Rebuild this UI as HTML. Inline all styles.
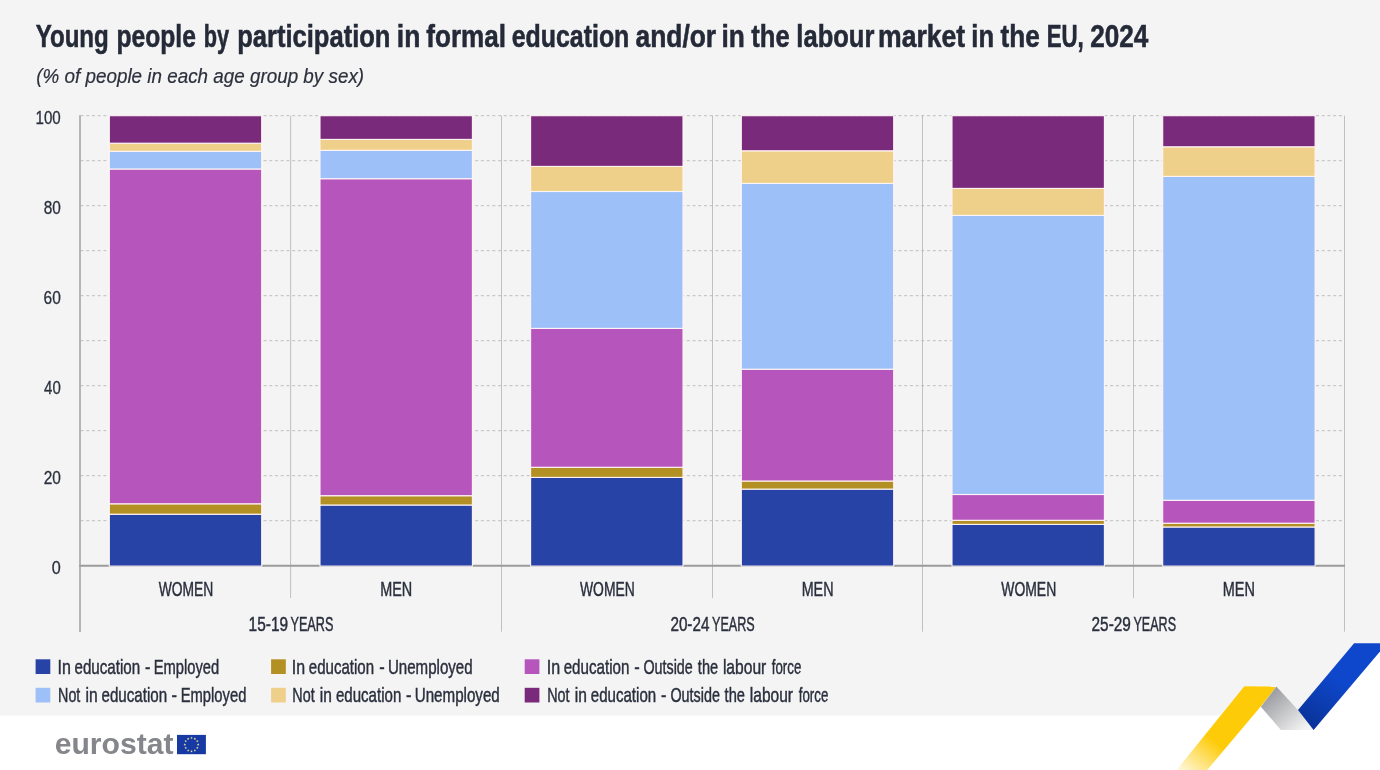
<!DOCTYPE html>
<html lang="en"><head><meta charset="utf-8"><title>Young people by participation in formal education and/or in the labour market in the EU, 2024</title>
<style>html,body{margin:0;padding:0;background:#fff;}svg{display:block;}text{font-family:"Liberation Sans",sans-serif;}</style></head><body>
<svg width="1380" height="770" viewBox="0 0 1380 770">
<defs>
<linearGradient id="gy" gradientUnits="userSpaceOnUse" x1="1216" y1="742" x2="1183" y2="782"><stop offset="0" stop-color="#fecb08"/><stop offset="1" stop-color="#fecb08" stop-opacity="0"/></linearGradient>
<linearGradient id="gb" gradientUnits="userSpaceOnUse" x1="1336" y1="678" x2="1305" y2="726"><stop offset="0" stop-color="#0e47cb"/><stop offset="1" stop-color="#0a3296"/></linearGradient>
<linearGradient id="gg" gradientUnits="userSpaceOnUse" x1="1268" y1="695" x2="1300" y2="732"><stop offset="0" stop-color="#9c9da1"/><stop offset="1" stop-color="#f2f2f2"/></linearGradient>
</defs>
<rect width="1380" height="770" fill="#ffffff"/>
<polygon points="0,0 1380,0 1380,643.2 1354.1,643.2 1298,710 1276.4,686.5 1244.3,686.3 1220,715.6 0,715.6" fill="#f4f4f4"/>
<polygon points="1244.3,686.3 1276.4,686.5 1260.7,706.6 1207.2,770 1176.6,770" fill="url(#gy)"/>
<polygon points="1276.4,686.6 1260.9,706.8 1280.9,730 1314,730 1298,710" fill="url(#gg)"/>
<polygon points="1354.1,643.2 1380,643.2 1380,651.4 1313.6,730 1298,710" fill="url(#gb)"/>
<path d="M80.5 520.7H1344.5M80.5 475.7H1344.5M80.5 430.7H1344.5M80.5 385.7H1344.5M80.5 340.7H1344.5M80.5 295.7H1344.5M80.5 250.7H1344.5M80.5 205.7H1344.5M80.5 160.7H1344.5M80.5 115.7H1344.5" stroke="#b9b9b9" stroke-width="0.9" stroke-dasharray="3 2.72" fill="none"/>
<path d="M290.6 115.7V598.0M501.5 115.7V631.7M712.5 115.7V598.0M922.5 115.7V631.7M1133.5 115.7V598.0M1344.5 115.7V631.7" stroke="#b2b2b2" stroke-width="0.8" fill="none"/>
<path d="M80 115.2V632" stroke="#9b9b9b" stroke-width="1.4" fill="none"/>
<path d="M79.3 565.8H1345" stroke="#9b9b9b" stroke-width="1.9" fill="none"/>
<rect x="109.3" y="514.2" width="152.4" height="51.9" fill="#2843a6" stroke="#fff5f5" stroke-width="1.1"/>
<rect x="109.3" y="503.8" width="152.4" height="10.4" fill="#b39024" stroke="#fff5f5" stroke-width="1.1"/>
<rect x="109.3" y="169.0" width="152.4" height="334.8" fill="#b656bd" stroke="#fff5f5" stroke-width="1.1"/>
<rect x="109.3" y="151.3" width="152.4" height="17.7" fill="#9dc0f8" stroke="#fff5f5" stroke-width="1.1"/>
<rect x="109.3" y="143.2" width="152.4" height="8.1" fill="#efd08a" stroke="#fff5f5" stroke-width="1.1"/>
<rect x="109.3" y="115.7" width="152.4" height="27.5" fill="#7a2a7a" stroke="#fff5f5" stroke-width="1.1"/>
<rect x="320.0" y="505.0" width="152.4" height="61.1" fill="#2843a6" stroke="#fff5f5" stroke-width="1.1"/>
<rect x="320.0" y="495.7" width="152.4" height="9.3" fill="#b39024" stroke="#fff5f5" stroke-width="1.1"/>
<rect x="320.0" y="178.7" width="152.4" height="317.0" fill="#b656bd" stroke="#fff5f5" stroke-width="1.1"/>
<rect x="320.0" y="150.3" width="152.4" height="28.4" fill="#9dc0f8" stroke="#fff5f5" stroke-width="1.1"/>
<rect x="320.0" y="139.4" width="152.4" height="10.9" fill="#efd08a" stroke="#fff5f5" stroke-width="1.1"/>
<rect x="320.0" y="115.7" width="152.4" height="23.7" fill="#7a2a7a" stroke="#fff5f5" stroke-width="1.1"/>
<rect x="530.6" y="477.4" width="152.4" height="88.7" fill="#2843a6" stroke="#fff5f5" stroke-width="1.1"/>
<rect x="530.6" y="467.3" width="152.4" height="10.1" fill="#b39024" stroke="#fff5f5" stroke-width="1.1"/>
<rect x="530.6" y="328.4" width="152.4" height="138.9" fill="#b656bd" stroke="#fff5f5" stroke-width="1.1"/>
<rect x="530.6" y="191.5" width="152.4" height="136.9" fill="#9dc0f8" stroke="#fff5f5" stroke-width="1.1"/>
<rect x="530.6" y="166.4" width="152.4" height="25.1" fill="#efd08a" stroke="#fff5f5" stroke-width="1.1"/>
<rect x="530.6" y="115.7" width="152.4" height="50.7" fill="#7a2a7a" stroke="#fff5f5" stroke-width="1.1"/>
<rect x="741.3" y="489.1" width="152.4" height="77.0" fill="#2843a6" stroke="#fff5f5" stroke-width="1.1"/>
<rect x="741.3" y="481.0" width="152.4" height="8.1" fill="#b39024" stroke="#fff5f5" stroke-width="1.1"/>
<rect x="741.3" y="369.2" width="152.4" height="111.8" fill="#b656bd" stroke="#fff5f5" stroke-width="1.1"/>
<rect x="741.3" y="183.4" width="152.4" height="185.8" fill="#9dc0f8" stroke="#fff5f5" stroke-width="1.1"/>
<rect x="741.3" y="150.8" width="152.4" height="32.6" fill="#efd08a" stroke="#fff5f5" stroke-width="1.1"/>
<rect x="741.3" y="115.7" width="152.4" height="35.1" fill="#7a2a7a" stroke="#fff5f5" stroke-width="1.1"/>
<rect x="952.0" y="524.4" width="152.4" height="41.7" fill="#2843a6" stroke="#fff5f5" stroke-width="1.1"/>
<rect x="952.0" y="520.3" width="152.4" height="4.1" fill="#b39024" stroke="#fff5f5" stroke-width="1.1"/>
<rect x="952.0" y="494.5" width="152.4" height="25.8" fill="#b656bd" stroke="#fff5f5" stroke-width="1.1"/>
<rect x="952.0" y="215.4" width="152.4" height="279.1" fill="#9dc0f8" stroke="#fff5f5" stroke-width="1.1"/>
<rect x="952.0" y="188.4" width="152.4" height="27.0" fill="#efd08a" stroke="#fff5f5" stroke-width="1.1"/>
<rect x="952.0" y="115.7" width="152.4" height="72.7" fill="#7a2a7a" stroke="#fff5f5" stroke-width="1.1"/>
<rect x="1162.7" y="527.0" width="152.4" height="39.1" fill="#2843a6" stroke="#fff5f5" stroke-width="1.1"/>
<rect x="1162.7" y="523.2" width="152.4" height="3.8" fill="#b39024" stroke="#fff5f5" stroke-width="1.1"/>
<rect x="1162.7" y="500.3" width="152.4" height="22.9" fill="#b656bd" stroke="#fff5f5" stroke-width="1.1"/>
<rect x="1162.7" y="176.4" width="152.4" height="323.9" fill="#9dc0f8" stroke="#fff5f5" stroke-width="1.1"/>
<rect x="1162.7" y="146.8" width="152.4" height="29.6" fill="#efd08a" stroke="#fff5f5" stroke-width="1.1"/>
<rect x="1162.7" y="115.7" width="152.4" height="31.1" fill="#7a2a7a" stroke="#fff5f5" stroke-width="1.1"/>
<rect x="35.6" y="659.3" width="14.7" height="14.7" fill="#2843a6"/>
<rect x="35.6" y="687.8" width="14.7" height="14.7" fill="#9dc0f8"/>
<rect x="271.1" y="659.3" width="14.7" height="14.7" fill="#b39024"/>
<rect x="271.1" y="687.8" width="14.7" height="14.7" fill="#efd08a"/>
<rect x="524.7" y="659.3" width="14.7" height="14.7" fill="#b656bd"/>
<rect x="524.7" y="687.8" width="14.7" height="14.7" fill="#7a2a7a"/>
<rect x="177" y="734.9" width="28.9" height="19.3" fill="#1639a3"/>
<g fill="#e3dc9a"><polygon points="191.50,736.55 191.85,737.41 192.78,737.48 192.07,738.09 192.29,738.99 191.50,738.50 190.71,738.99 190.93,738.09 190.22,737.48 191.15,737.41"/><polygon points="194.85,737.45 195.20,738.31 196.13,738.38 195.42,738.98 195.64,739.89 194.85,739.40 194.06,739.89 194.28,738.98 193.57,738.38 194.50,738.31"/><polygon points="197.30,739.90 197.66,740.76 198.59,740.83 197.87,741.44 198.10,742.34 197.30,741.85 196.51,742.34 196.73,741.44 196.02,740.83 196.95,740.76"/><polygon points="198.20,743.25 198.55,744.11 199.48,744.18 198.77,744.79 198.99,745.69 198.20,745.20 197.41,745.69 197.63,744.79 196.92,744.18 197.85,744.11"/><polygon points="197.30,746.60 197.66,747.46 198.59,747.53 197.87,748.14 198.10,749.04 197.30,748.55 196.51,749.04 196.73,748.14 196.02,747.53 196.95,747.46"/><polygon points="194.85,749.05 195.20,749.92 196.13,749.99 195.42,750.59 195.64,751.49 194.85,751.00 194.06,751.49 194.28,750.59 193.57,749.99 194.50,749.92"/><polygon points="191.50,749.95 191.85,750.81 192.78,750.88 192.07,751.49 192.29,752.39 191.50,751.90 190.71,752.39 190.93,751.49 190.22,750.88 191.15,750.81"/><polygon points="188.15,749.05 188.50,749.92 189.43,749.99 188.72,750.59 188.94,751.49 188.15,751.00 187.36,751.49 187.58,750.59 186.87,749.99 187.80,749.92"/><polygon points="185.70,746.60 186.05,747.46 186.98,747.53 186.27,748.14 186.49,749.04 185.70,748.55 184.90,749.04 185.13,748.14 184.41,747.53 185.34,747.46"/><polygon points="184.80,743.25 185.15,744.11 186.08,744.18 185.37,744.79 185.59,745.69 184.80,745.20 184.01,745.69 184.23,744.79 183.52,744.18 184.45,744.11"/><polygon points="185.70,739.90 186.05,740.76 186.98,740.83 186.27,741.44 186.49,742.34 185.70,741.85 184.90,742.34 185.13,741.44 184.41,740.83 185.34,740.76"/><polygon points="188.15,737.45 188.50,738.31 189.43,738.38 188.72,738.98 188.94,739.89 188.15,739.40 187.36,739.89 187.58,738.98 186.87,738.38 187.80,738.31"/></g>
<text id="t0" x="35.63" y="47.40" font-size="31.40" font-weight="bold" font-style="normal" fill="#252a38" stroke="#252a38" stroke-width="0.55" textLength="73.20" lengthAdjust="spacingAndGlyphs">Young</text>
<text id="t1" x="116.56" y="47.40" font-size="31.40" font-weight="bold" font-style="normal" fill="#252a38" stroke="#252a38" stroke-width="0.55" textLength="79.31" lengthAdjust="spacingAndGlyphs">people</text>
<text id="t2" x="203.69" y="47.40" font-size="31.40" font-weight="bold" font-style="normal" fill="#252a38" stroke="#252a38" stroke-width="0.55" textLength="25.36" lengthAdjust="spacingAndGlyphs">by</text>
<text id="t3" x="237.17" y="47.40" font-size="31.40" font-weight="bold" font-style="normal" fill="#252a38" stroke="#252a38" stroke-width="0.55" textLength="153.29" lengthAdjust="spacingAndGlyphs">participation</text>
<text id="t4" x="396.85" y="47.40" font-size="31.40" font-weight="bold" font-style="normal" fill="#252a38" stroke="#252a38" stroke-width="0.55" textLength="23.49" lengthAdjust="spacingAndGlyphs">in</text>
<text id="t5" x="426.27" y="47.40" font-size="31.40" font-weight="bold" font-style="normal" fill="#252a38" stroke="#252a38" stroke-width="0.55" textLength="79.71" lengthAdjust="spacingAndGlyphs">formal</text>
<text id="t6" x="511.69" y="47.40" font-size="31.40" font-weight="bold" font-style="normal" fill="#252a38" stroke="#252a38" stroke-width="0.55" textLength="117.63" lengthAdjust="spacingAndGlyphs">education</text>
<text id="t7" x="635.50" y="47.40" font-size="31.40" font-weight="bold" font-style="normal" fill="#252a38" stroke="#252a38" stroke-width="0.55" textLength="80.63" lengthAdjust="spacingAndGlyphs">and/or</text>
<text id="t8" x="721.47" y="47.40" font-size="31.40" font-weight="bold" font-style="normal" fill="#252a38" stroke="#252a38" stroke-width="0.55" textLength="23.33" lengthAdjust="spacingAndGlyphs">in</text>
<text id="t9" x="751.33" y="47.40" font-size="31.40" font-weight="bold" font-style="normal" fill="#252a38" stroke="#252a38" stroke-width="0.55" textLength="38.33" lengthAdjust="spacingAndGlyphs">the</text>
<text id="t10" x="796.35" y="47.40" font-size="31.40" font-weight="bold" font-style="normal" fill="#252a38" stroke="#252a38" stroke-width="0.55" textLength="78.07" lengthAdjust="spacingAndGlyphs">labour</text>
<text id="t11" x="878.03" y="47.40" font-size="31.40" font-weight="bold" font-style="normal" fill="#252a38" stroke="#252a38" stroke-width="0.55" textLength="87.16" lengthAdjust="spacingAndGlyphs">market</text>
<text id="t12" x="971.32" y="47.40" font-size="31.40" font-weight="bold" font-style="normal" fill="#252a38" stroke="#252a38" stroke-width="0.55" textLength="22.72" lengthAdjust="spacingAndGlyphs">in</text>
<text id="t13" x="1000.58" y="47.40" font-size="31.40" font-weight="bold" font-style="normal" fill="#252a38" stroke="#252a38" stroke-width="0.55" textLength="39.23" lengthAdjust="spacingAndGlyphs">the</text>
<text id="t14" x="1046.68" y="47.40" font-size="31.40" font-weight="bold" font-style="normal" fill="#252a38" stroke="#252a38" stroke-width="0.55" textLength="37.14" lengthAdjust="spacingAndGlyphs">EU,</text>
<text id="t15" x="1090.17" y="47.40" font-size="31.40" font-weight="bold" font-style="normal" fill="#252a38" stroke="#252a38" stroke-width="0.55" textLength="58.09" lengthAdjust="spacingAndGlyphs">2024</text>
<text id="sub" x="36.34" y="83.30" font-size="19.60" font-weight="normal" font-style="italic" fill="#2c303c" stroke="#2c303c" stroke-width="0.20" textLength="327.75" lengthAdjust="spacingAndGlyphs">(% of people in each age group by sex)</text>
<text id="y100" x="35.53" y="124.10" font-size="19.20" font-weight="normal" font-style="normal" fill="#2a2f3d" stroke="#2a2f3d" stroke-width="0.30" textLength="25.22" lengthAdjust="spacingAndGlyphs">100</text>
<text id="y80" x="43.72" y="214.10" font-size="19.20" font-weight="normal" font-style="normal" fill="#2a2f3d" stroke="#2a2f3d" stroke-width="0.30" textLength="17.12" lengthAdjust="spacingAndGlyphs">80</text>
<text id="y60" x="43.51" y="304.10" font-size="19.20" font-weight="normal" font-style="normal" fill="#2a2f3d" stroke="#2a2f3d" stroke-width="0.30" textLength="17.26" lengthAdjust="spacingAndGlyphs">60</text>
<text id="y40" x="44.07" y="394.10" font-size="19.20" font-weight="normal" font-style="normal" fill="#2a2f3d" stroke="#2a2f3d" stroke-width="0.30" textLength="16.68" lengthAdjust="spacingAndGlyphs">40</text>
<text id="y20" x="43.66" y="484.10" font-size="19.20" font-weight="normal" font-style="normal" fill="#2a2f3d" stroke="#2a2f3d" stroke-width="0.30" textLength="17.20" lengthAdjust="spacingAndGlyphs">20</text>
<text id="y0" x="51.82" y="574.10" font-size="19.20" font-weight="normal" font-style="normal" fill="#2a2f3d" stroke="#2a2f3d" stroke-width="0.30" textLength="8.99" lengthAdjust="spacingAndGlyphs">0</text>
<text id="x0" x="158.71" y="595.90" font-size="20.00" font-weight="normal" font-style="normal" fill="#2a2f3d" stroke="#2a2f3d" stroke-width="0.45" textLength="54.63" lengthAdjust="spacingAndGlyphs">WOMEN</text>
<text id="x1" x="380.20" y="595.90" font-size="20.00" font-weight="normal" font-style="normal" fill="#2a2f3d" stroke="#2a2f3d" stroke-width="0.45" textLength="32.04" lengthAdjust="spacingAndGlyphs">MEN</text>
<text id="x2" x="579.99" y="595.90" font-size="20.00" font-weight="normal" font-style="normal" fill="#2a2f3d" stroke="#2a2f3d" stroke-width="0.45" textLength="54.81" lengthAdjust="spacingAndGlyphs">WOMEN</text>
<text id="x3" x="801.64" y="595.90" font-size="20.00" font-weight="normal" font-style="normal" fill="#2a2f3d" stroke="#2a2f3d" stroke-width="0.45" textLength="31.88" lengthAdjust="spacingAndGlyphs">MEN</text>
<text id="x4" x="1001.30" y="595.90" font-size="20.00" font-weight="normal" font-style="normal" fill="#2a2f3d" stroke="#2a2f3d" stroke-width="0.45" textLength="54.91" lengthAdjust="spacingAndGlyphs">WOMEN</text>
<text id="x5" x="1222.80" y="595.90" font-size="20.00" font-weight="normal" font-style="normal" fill="#2a2f3d" stroke="#2a2f3d" stroke-width="0.45" textLength="32.16" lengthAdjust="spacingAndGlyphs">MEN</text>
<text id="g0a" x="248.57" y="630.70" font-size="20.30" font-weight="normal" font-style="normal" fill="#2a2f3d" stroke="#2a2f3d" stroke-width="0.45" textLength="39.52" lengthAdjust="spacingAndGlyphs">15-19</text>
<text id="g0b" x="290.49" y="630.70" font-size="20.30" font-weight="normal" font-style="normal" fill="#2a2f3d" stroke="#2a2f3d" stroke-width="0.45" textLength="42.92" lengthAdjust="spacingAndGlyphs">YEARS</text>
<text id="g1a" x="670.41" y="630.70" font-size="20.30" font-weight="normal" font-style="normal" fill="#2a2f3d" stroke="#2a2f3d" stroke-width="0.45" textLength="38.99" lengthAdjust="spacingAndGlyphs">20-24</text>
<text id="g1b" x="712.03" y="630.70" font-size="20.30" font-weight="normal" font-style="normal" fill="#2a2f3d" stroke="#2a2f3d" stroke-width="0.45" textLength="42.73" lengthAdjust="spacingAndGlyphs">YEARS</text>
<text id="g2a" x="1091.57" y="630.70" font-size="20.30" font-weight="normal" font-style="normal" fill="#2a2f3d" stroke="#2a2f3d" stroke-width="0.45" textLength="39.31" lengthAdjust="spacingAndGlyphs">25-29</text>
<text id="g2b" x="1133.42" y="630.70" font-size="20.30" font-weight="normal" font-style="normal" fill="#2a2f3d" stroke="#2a2f3d" stroke-width="0.45" textLength="42.63" lengthAdjust="spacingAndGlyphs">YEARS</text>
<text id="l0_0_0" x="57.62" y="673.60" font-size="20.20" font-weight="normal" font-style="normal" fill="#2a2f3d" stroke="#2a2f3d" stroke-width="0.45" textLength="13.35" lengthAdjust="spacingAndGlyphs">In</text>
<text id="l0_0_1" x="74.49" y="673.60" font-size="20.20" font-weight="normal" font-style="normal" fill="#2a2f3d" stroke="#2a2f3d" stroke-width="0.45" textLength="65.69" lengthAdjust="spacingAndGlyphs">education</text>
<text id="l0_0_2" x="144.89" y="673.60" font-size="20.20" font-weight="normal" font-style="normal" fill="#2a2f3d" stroke="#2a2f3d" stroke-width="0.45" textLength="5.42" lengthAdjust="spacingAndGlyphs">-</text>
<text id="l0_0_3" x="153.74" y="673.60" font-size="20.20" font-weight="normal" font-style="normal" fill="#2a2f3d" stroke="#2a2f3d" stroke-width="0.45" textLength="65.49" lengthAdjust="spacingAndGlyphs">Employed</text>
<text id="l0_1_0" x="58.08" y="701.60" font-size="20.20" font-weight="normal" font-style="normal" fill="#2a2f3d" stroke="#2a2f3d" stroke-width="0.45" textLength="22.23" lengthAdjust="spacingAndGlyphs">Not</text>
<text id="l0_1_1" x="85.45" y="701.60" font-size="20.20" font-weight="normal" font-style="normal" fill="#2a2f3d" stroke="#2a2f3d" stroke-width="0.45" textLength="12.17" lengthAdjust="spacingAndGlyphs">in</text>
<text id="l0_1_2" x="101.47" y="701.60" font-size="20.20" font-weight="normal" font-style="normal" fill="#2a2f3d" stroke="#2a2f3d" stroke-width="0.45" textLength="65.70" lengthAdjust="spacingAndGlyphs">education</text>
<text id="l0_1_3" x="171.51" y="701.60" font-size="20.20" font-weight="normal" font-style="normal" fill="#2a2f3d" stroke="#2a2f3d" stroke-width="0.45" textLength="5.48" lengthAdjust="spacingAndGlyphs">-</text>
<text id="l0_1_4" x="180.72" y="701.60" font-size="20.20" font-weight="normal" font-style="normal" fill="#2a2f3d" stroke="#2a2f3d" stroke-width="0.45" textLength="65.64" lengthAdjust="spacingAndGlyphs">Employed</text>
<text id="l1_0_0" x="291.78" y="673.60" font-size="20.20" font-weight="normal" font-style="normal" fill="#2a2f3d" stroke="#2a2f3d" stroke-width="0.45" textLength="13.30" lengthAdjust="spacingAndGlyphs">In</text>
<text id="l1_0_1" x="308.80" y="673.60" font-size="20.20" font-weight="normal" font-style="normal" fill="#2a2f3d" stroke="#2a2f3d" stroke-width="0.45" textLength="65.26" lengthAdjust="spacingAndGlyphs">education</text>
<text id="l1_0_2" x="379.27" y="673.60" font-size="20.20" font-weight="normal" font-style="normal" fill="#2a2f3d" stroke="#2a2f3d" stroke-width="0.45" textLength="5.47" lengthAdjust="spacingAndGlyphs">-</text>
<text id="l1_0_3" x="387.91" y="673.60" font-size="20.20" font-weight="normal" font-style="normal" fill="#2a2f3d" stroke="#2a2f3d" stroke-width="0.45" textLength="84.72" lengthAdjust="spacingAndGlyphs">Unemployed</text>
<text id="l1_1_0" x="292.32" y="701.60" font-size="20.20" font-weight="normal" font-style="normal" fill="#2a2f3d" stroke="#2a2f3d" stroke-width="0.45" textLength="22.34" lengthAdjust="spacingAndGlyphs">Not</text>
<text id="l1_1_1" x="319.87" y="701.60" font-size="20.20" font-weight="normal" font-style="normal" fill="#2a2f3d" stroke="#2a2f3d" stroke-width="0.45" textLength="12.07" lengthAdjust="spacingAndGlyphs">in</text>
<text id="l1_1_2" x="335.94" y="701.60" font-size="20.20" font-weight="normal" font-style="normal" fill="#2a2f3d" stroke="#2a2f3d" stroke-width="0.45" textLength="65.34" lengthAdjust="spacingAndGlyphs">education</text>
<text id="l1_1_3" x="405.88" y="701.60" font-size="20.20" font-weight="normal" font-style="normal" fill="#2a2f3d" stroke="#2a2f3d" stroke-width="0.45" textLength="5.46" lengthAdjust="spacingAndGlyphs">-</text>
<text id="l1_1_4" x="414.71" y="701.60" font-size="20.20" font-weight="normal" font-style="normal" fill="#2a2f3d" stroke="#2a2f3d" stroke-width="0.45" textLength="85.10" lengthAdjust="spacingAndGlyphs">Unemployed</text>
<text id="l2_0_0" x="546.70" y="673.60" font-size="20.20" font-weight="normal" font-style="normal" fill="#2a2f3d" stroke="#2a2f3d" stroke-width="0.45" textLength="13.37" lengthAdjust="spacingAndGlyphs">In</text>
<text id="l2_0_1" x="563.69" y="673.60" font-size="20.20" font-weight="normal" font-style="normal" fill="#2a2f3d" stroke="#2a2f3d" stroke-width="0.45" textLength="65.65" lengthAdjust="spacingAndGlyphs">education</text>
<text id="l2_0_2" x="634.17" y="673.60" font-size="20.20" font-weight="normal" font-style="normal" fill="#2a2f3d" stroke="#2a2f3d" stroke-width="0.45" textLength="5.46" lengthAdjust="spacingAndGlyphs">-</text>
<text id="l2_0_3" x="643.42" y="673.60" font-size="20.20" font-weight="normal" font-style="normal" fill="#2a2f3d" stroke="#2a2f3d" stroke-width="0.45" textLength="49.37" lengthAdjust="spacingAndGlyphs">Outside</text>
<text id="l2_0_4" x="697.86" y="673.60" font-size="20.20" font-weight="normal" font-style="normal" fill="#2a2f3d" stroke="#2a2f3d" stroke-width="0.45" textLength="20.25" lengthAdjust="spacingAndGlyphs">the</text>
<text id="l2_0_5" x="722.88" y="673.60" font-size="20.20" font-weight="normal" font-style="normal" fill="#2a2f3d" stroke="#2a2f3d" stroke-width="0.45" textLength="43.39" lengthAdjust="spacingAndGlyphs">labour</text>
<text id="l2_0_6" x="771.80" y="673.60" font-size="20.20" font-weight="normal" font-style="normal" fill="#2a2f3d" stroke="#2a2f3d" stroke-width="0.45" textLength="29.52" lengthAdjust="spacingAndGlyphs">force</text>
<text id="l2_1_0" x="547.20" y="701.60" font-size="20.20" font-weight="normal" font-style="normal" fill="#2a2f3d" stroke="#2a2f3d" stroke-width="0.45" textLength="22.33" lengthAdjust="spacingAndGlyphs">Not</text>
<text id="l2_1_1" x="574.81" y="701.60" font-size="20.20" font-weight="normal" font-style="normal" fill="#2a2f3d" stroke="#2a2f3d" stroke-width="0.45" textLength="12.13" lengthAdjust="spacingAndGlyphs">in</text>
<text id="l2_1_2" x="590.80" y="701.60" font-size="20.20" font-weight="normal" font-style="normal" fill="#2a2f3d" stroke="#2a2f3d" stroke-width="0.45" textLength="65.35" lengthAdjust="spacingAndGlyphs">education</text>
<text id="l2_1_3" x="660.89" y="701.60" font-size="20.20" font-weight="normal" font-style="normal" fill="#2a2f3d" stroke="#2a2f3d" stroke-width="0.45" textLength="5.42" lengthAdjust="spacingAndGlyphs">-</text>
<text id="l2_1_4" x="670.38" y="701.60" font-size="20.20" font-weight="normal" font-style="normal" fill="#2a2f3d" stroke="#2a2f3d" stroke-width="0.45" textLength="49.51" lengthAdjust="spacingAndGlyphs">Outside</text>
<text id="l2_1_5" x="724.57" y="701.60" font-size="20.20" font-weight="normal" font-style="normal" fill="#2a2f3d" stroke="#2a2f3d" stroke-width="0.45" textLength="20.40" lengthAdjust="spacingAndGlyphs">the</text>
<text id="l2_1_6" x="749.83" y="701.60" font-size="20.20" font-weight="normal" font-style="normal" fill="#2a2f3d" stroke="#2a2f3d" stroke-width="0.45" textLength="43.14" lengthAdjust="spacingAndGlyphs">labour</text>
<text id="l2_1_7" x="798.76" y="701.60" font-size="20.20" font-weight="normal" font-style="normal" fill="#2a2f3d" stroke="#2a2f3d" stroke-width="0.45" textLength="29.56" lengthAdjust="spacingAndGlyphs">force</text>
<text id="logo" x="54.66" y="754.20" font-size="29.40" font-weight="bold" font-style="normal" fill="#85868b" stroke="#85868b" stroke-width="0.00" textLength="118.79" lengthAdjust="spacingAndGlyphs">eurostat</text>
</svg></body></html>
